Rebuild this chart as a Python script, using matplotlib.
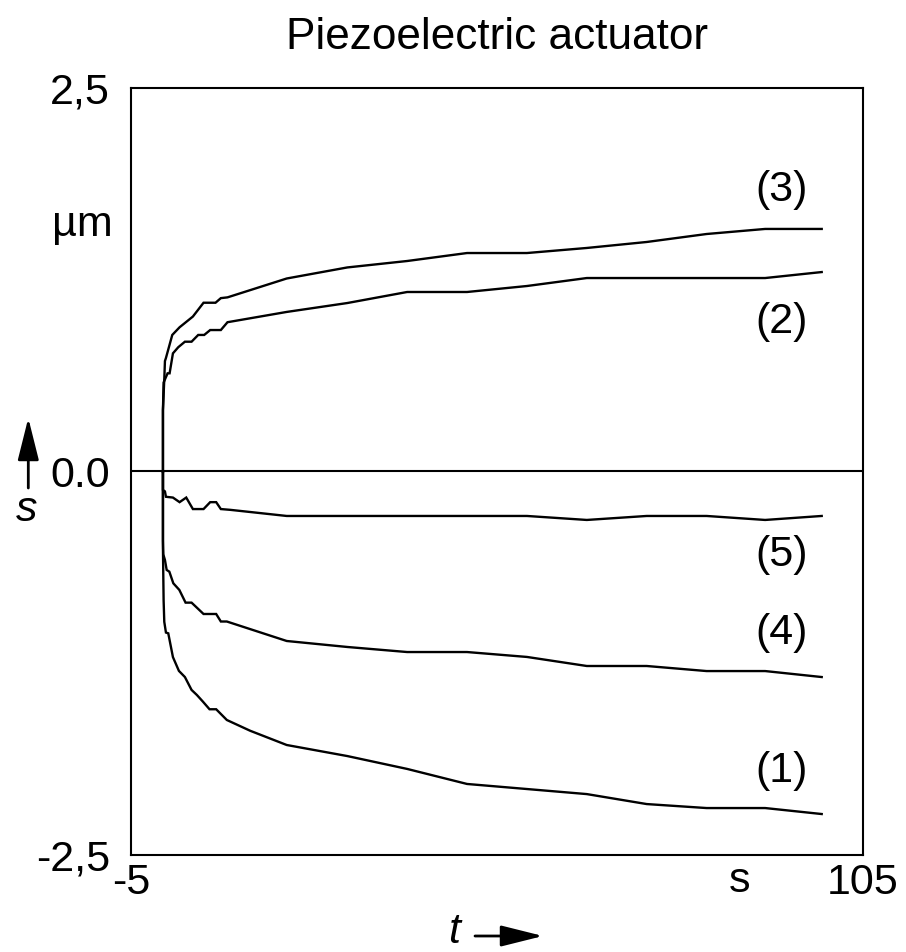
import matplotlib
matplotlib.use("Agg")
import matplotlib.pyplot as plt

plt.rcParams['font.family'] = ['Liberation Sans', 'DejaVu Sans']

# Displacement s (µm) over time t (s) for five actuator runs
t1 = [-0.2, -0.2, -0.1, 0.0, 0.25, 0.6, 1.3, 2.2, 3.1, 4.1, 4.9, 5.8, 6.8, 7.8, 9.4, 12.9,
      18.4, 27.5, 36.5, 45.5, 54.5, 63.5, 72.5, 81.5, 90.3, 98.8]
s1 = [0.0, -0.5, -0.84, -0.98, -1.05, -1.055, -1.21, -1.30, -1.34, -1.424, -1.457, -1.50, -1.55, -1.55,
      -1.62, -1.69, -1.783, -1.855, -1.939, -2.037, -2.07, -2.103, -2.168, -2.194, -2.194, -2.233]

t2 = [-0.2, -0.2, -0.1, 0.5, 0.8, 1.3, 2.1, 3.1, 4.1, 5.1, 6.0, 6.9, 8.5, 9.5,
      18.4, 27.5, 36.5, 45.5, 54.5, 63.5, 72.5, 81.5, 90.3, 98.8]
s2 = [0.0, 0.40, 0.58, 0.64, 0.64, 0.77, 0.81, 0.846, 0.846, 0.89, 0.89, 0.922, 0.922, 0.973,
      1.04, 1.098, 1.17, 1.17, 1.209, 1.261, 1.261, 1.261, 1.261, 1.30]

t3 = [-0.2, -0.2, 0.0, 0.1, 0.25, 1.2, 2.3, 4.3, 5.9, 7.7, 8.5, 9.5,
      18.4, 27.5, 36.5, 45.5, 54.5, 63.5, 72.5, 81.5, 90.3, 98.8]
s3 = [0.0, 0.40, 0.60, 0.72, 0.74, 0.89, 0.94, 1.01, 1.10, 1.10, 1.13, 1.135,
      1.258, 1.33, 1.372, 1.424, 1.424, 1.457, 1.496, 1.548, 1.581, 1.581]

t4 = [-0.2, -0.2, -0.15, 0.1, 0.36, 0.76, 1.36, 2.26, 3.2, 4.1, 5.9, 7.8, 8.5, 9.4,
      18.4, 27.5, 36.5, 45.5, 54.5, 63.5, 72.5, 81.5, 90.3, 98.8]
s4 = [0.0, -0.45, -0.54, -0.577, -0.642, -0.653, -0.729, -0.772, -0.855, -0.855, -0.929, -0.929,
      -0.978, -0.978, -1.105, -1.144, -1.177, -1.177, -1.209, -1.268, -1.268, -1.301, -1.301, -1.34]

t5 = [-0.2, -0.2, 0.1, 0.25, 1.3, 2.3, 3.3, 4.3, 5.9, 6.9, 7.8, 8.5, 9.9,
      18.4, 27.5, 36.5, 45.5, 54.5, 63.5, 72.5, 81.5, 90.3, 98.8]
s5 = [0.0, -0.12, -0.13, -0.165, -0.17, -0.20, -0.17, -0.245, -0.245, -0.20, -0.20, -0.245, -0.25,
      -0.29, -0.29, -0.29, -0.29, -0.29, -0.316, -0.29, -0.29, -0.316, -0.29]

curve_labels = ['(1)', '(2)', '(3)', '(4)', '(5)']
label_t = [92.8, 92.8, 92.8, 92.8, 92.8]
label_s = [-1.953, 0.975, 1.835, -1.053, -0.544]

y_ticks = [-2.5, 0.0, 2.5]
y_ticklabels = ['-2,5', '0.0', '2,5']
x_ticks = [-5, 105]
x_ticklabels = ['-5', '105']

FS = 31
fig = plt.figure(figsize=(9.06, 9.52), dpi=100)
ax = fig.add_axes([0.1446, 0.1019, 0.8079, 0.8057])

for t, s in [(t1, s1), (t2, s2), (t3, s3), (t4, s4), (t5, s5)]:
    ax.plot(t, s, color='black', lw=1.7, solid_joinstyle='miter')

ax.axhline(0, color='black', lw=1.5)

for lab, lt, ls in zip(curve_labels, label_t, label_s):
    ax.text(lt, ls, lab, fontsize=FS, ha='center', va='center')

ax.set_xlim(-5, 105)
ax.set_ylim(-2.5, 2.5)
ax.set_yticks(y_ticks)
ax.set_yticklabels(y_ticklabels)
ax.set_xticks(x_ticks)
ax.set_xticklabels(x_ticklabels)
ax.tick_params(length=0, labelsize=FS)
ax.tick_params(axis='y', pad=15)
ax.tick_params(axis='x', pad=6)
for sp in ax.spines.values():
    sp.set_linewidth(1.5)

ax.set_title('Piezoelectric actuator', fontsize=31.8, pad=28)

# unit labels
ax.text(-0.025, 1.607, 'µm', transform=ax.get_yaxis_transform(), fontsize=FS,
        ha='right', va='center')
ax.text(86.5, -0.008, 's', transform=ax.get_xaxis_transform(), fontsize=FS,
        ha='center', va='top')

# axis symbols with arrows
fig.text(454 / 906, 1 - 932 / 952, 't', fontsize=FS, style='italic', ha='center', va='center')
fig.add_artist(matplotlib.patches.FancyArrowPatch(
    (475 / 906, 1 - 936 / 952), (543 / 906, 1 - 936 / 952), transform=fig.transFigure,
    arrowstyle='-|>,head_length=2.6,head_width=0.65', mutation_scale=10, lw=2, color='black',
    shrinkA=0, shrinkB=0))
fig.text(27 / 906, 1 - 510 / 952, 's', fontsize=FS, style='italic', ha='center', va='center')
fig.add_artist(matplotlib.patches.FancyArrowPatch(
    (28.3 / 906, 1 - 488 / 952), (28.3 / 906, 1 - 418 / 952), transform=fig.transFigure,
    arrowstyle='-|>,head_length=2.6,head_width=0.65', mutation_scale=10, lw=2, color='black',
    shrinkA=0, shrinkB=0))

fig.savefig('out.png', dpi=100)
